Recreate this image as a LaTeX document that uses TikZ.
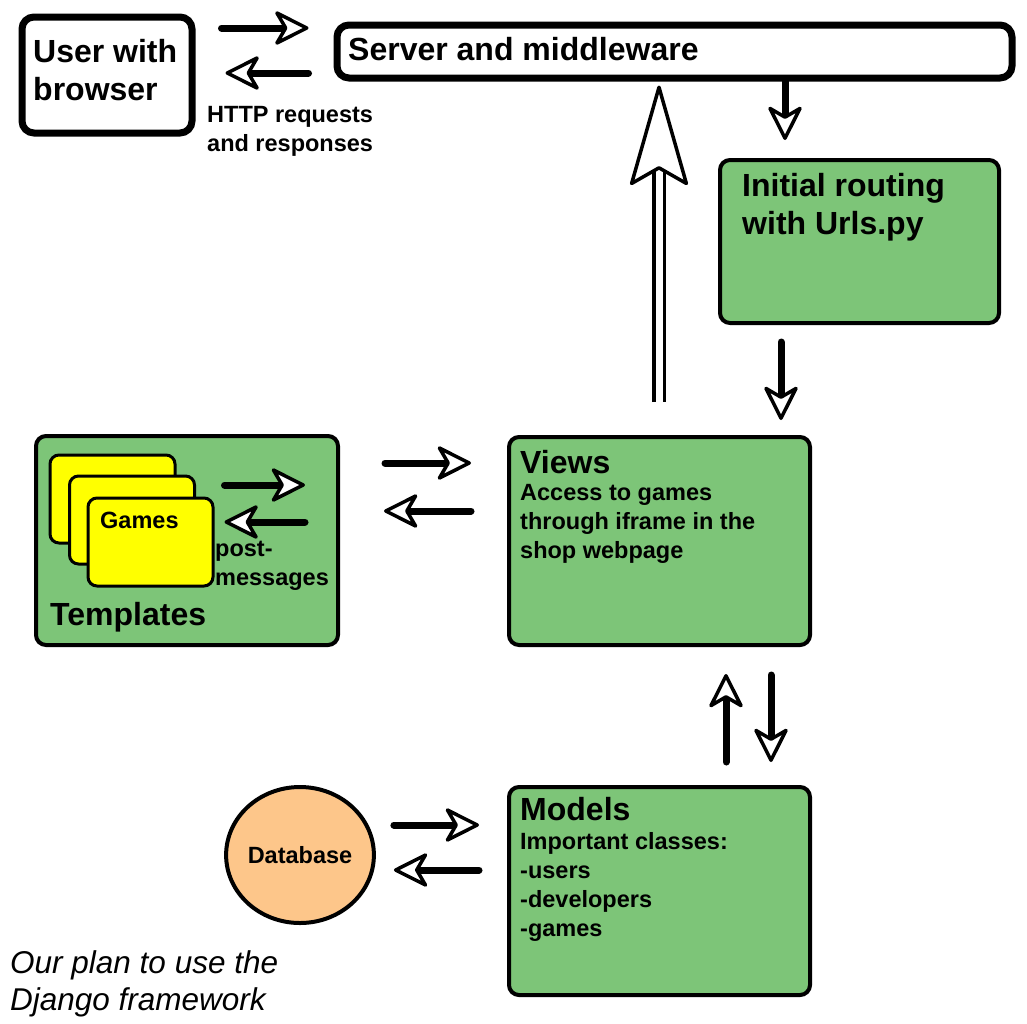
\documentclass[tikz,border=0pt]{standalone}
\usepackage{fontspec}
\setmainfont{Liberation Sans}
\usetikzlibrary{arrows.meta,positioning,shapes.geometric}
\definecolor{boxgreen}{RGB}{125,197,120}
\definecolor{cardyellow}{RGB}{255,255,0}
\definecolor{dborange}{RGB}{253,198,138}
\begin{document}
\begin{tikzpicture}[x=1pt,y=1pt]
	\tikzstyle{every node}+=[inner sep=0pt]
	\tikzstyle{whitebox}=[draw=black, line width=7pt, rounded corners=12pt, fill=white, anchor=north west]
	\tikzstyle{greenbox}=[draw=black, line width=4pt, rounded corners=10pt, fill=boxgreen, anchor=north west]
	\tikzstyle{cardbox}=[draw=black, line width=3pt, rounded corners=9pt, fill=cardyellow, anchor=north west, minimum width=125pt, minimum height=88pt]
	\tikzstyle{bigtxt}=[font=\fontsize{32}{38}\selectfont\bfseries, align=left, anchor=base west]
	\tikzstyle{smalltxt}=[font=\fontsize{23.5}{29}\selectfont\bfseries, align=left, anchor=base west]
	\tikzstyle{captiontxt}=[font=\fontsize{31.5}{37}\selectfont\itshape, align=left, anchor=base west]
	\tikzstyle{dbcircle}=[ellipse, draw=black, line width=4pt, fill=dborange, minimum width=140pt, minimum height=136pt, font=\fontsize{23.5}{29}\selectfont\bfseries]
	\tikzstyle{arr}=[line width=7pt, line cap=round, -{Stealth[round, fill=white, line width=3.5pt, length=38pt, width=38pt, inset=11pt]}]
	\tikzstyle{bigarr}=[line width=3.5pt, double=white, double distance=7pt, -{Stealth[round, fill=white, line width=3.5pt, length=106pt, width=60pt, inset=17pt]}]
	\useasboundingbox (0,0) rectangle (1027,-1023);
	% boxes
	\node[whitebox, minimum width=170pt, minimum height=116pt] (user) at (18.5,-13.5) {};
	\node[bigtxt] (usertxt) at (33,-100) {User with\\browser};
	\node[whitebox, minimum width=675pt, minimum height=53pt] (server) at (333.5,-21.5) {};
	\node[bigtxt] (servertxt) at (348,-60) {Server and middleware};
	\node[smalltxt] (httptxt) at (207,-151) {HTTP requests\\and responses};
	\node[greenbox, minimum width=279pt, minimum height=163pt] (routing) at (718,-158) {};
	\node[bigtxt] (routingtxt) at (742,-234) {Initial routing\\with Urls.py};
	\node[greenbox, minimum width=302pt, minimum height=209pt] (templates) at (34,-434) {};
	\node[cardbox] (card1) at (48.5,-453.5) {};
	\node[cardbox] (card2) at (68,-474.5) {};
	\node[cardbox] (card3) at (86.5,-496.5) {};
	\node[smalltxt] (gamestxt) at (100,-528) {Games};
	\node[smalltxt] (posttxt) at (215,-585) {post-\\messages};
	\node[bigtxt] (templatestxt) at (50,-625) {Templates};
	\node[greenbox, minimum width=301pt, minimum height=208pt] (views) at (507,-435) {};
	\node[bigtxt] (viewstitle) at (520,-473) {Views};
	\node[smalltxt] (viewstxt) at (520,-558) {Access to games\\through iframe in the\\shop webpage};
	\node[greenbox, minimum width=301pt, minimum height=208pt] (models) at (507,-785) {};
	\node[bigtxt] (modelstitle) at (520,-820) {Models};
	\node[smalltxt] (modelstxt) at (520,-936) {Important classes:\\-users\\-developers\\-games};
	\node[dbcircle] (db) at (300,-855) {Database};
	\node[captiontxt] (caption) at (10,-1010) {Our plan to use the\\Django framework};
	% arrows
	\draw[arr, shorten <=26pt, shorten >=25pt] (user.east |- 0,-28) -- (server.west |- 0,-28);
	\draw[arr, shorten <=25pt, shorten >=30pt] (server.west |- 0,-73) -- (user.east |- 0,-73);
	\draw[arr, shorten >=18pt] (785,0 |- server.south) -- (785,0 |- routing.north);
	\draw[arr, shorten <=17pt, shorten >=15pt] (781,0 |- routing.south) -- (781,0 |- views.north);
	\draw[bigarr, shorten <=33pt, shorten >=4pt] (659,0 |- views.north) -- (659,0 |- server.south);
	\draw[arr, shorten <=45pt, shorten >=36pt] (templates.east |- 0,-463) -- (views.west |- 0,-463);
	\draw[arr, shorten <=36pt, shorten >=44pt] (views.west |- 0,-511) -- (templates.east |- 0,-511);
	\draw[arr, shorten <=10pt, shorten >=35pt] (card3.east |- 0,-485) -- (templates.east |- 0,-485);
	\draw[arr, shorten <=35pt, shorten >=10pt] (templates.east |- 0,-522) -- (card3.east |- 0,-522);
	\draw[arr, shorten <=23pt, shorten >=27pt] (726,0 |- models.north) -- (726,0 |- views.south);
	\draw[arr, shorten <=28pt, shorten >=23pt] (771,0 |- views.south) -- (771,0 |- models.north);
	\draw[arr, shorten <=18pt, shorten >=28pt] (db.east |- 0,-825) -- (models.west |- 0,-825);
	\draw[arr, shorten <=28pt, shorten >=18pt] (models.west |- 0,-870) -- (db.east |- 0,-870);
\end{tikzpicture}
\end{document}
